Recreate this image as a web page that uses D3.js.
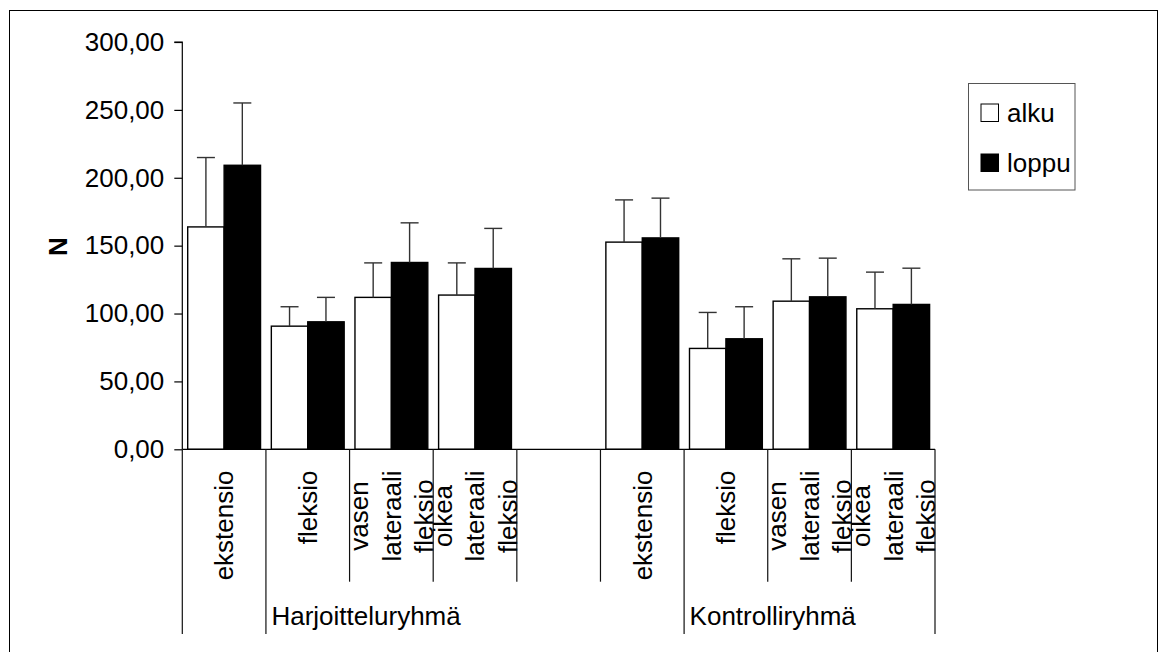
<!DOCTYPE html>
<html>
<head>
<meta charset="utf-8">
<script src="https://cdn.jsdelivr.net/npm/d3@7"></script>
<style>
  html, body { margin: 0; padding: 0; background: #fff; }
  svg { display: block; font-family: "Liberation Sans", Arial, sans-serif; }
</style>
</head>
<body>
<svg id="chart" width="1159" height="652"></svg>
<script>
// ---- data ----
const categories = [
  ["ekstensio"],
  ["fleksio"],
  ["vasen", "lateraali", "fleksio"],
  ["oikea", "lateraali", "fleksio"],
  [""],
  ["ekstensio"],
  ["fleksio"],
  ["vasen", "lateraali", "fleksio"],
  ["oikea", "lateraali", "fleksio"]
];
const groupLabels = ["", "Harjoitteluryhmä", "Kontrolliryhmä"];
const groupStarts = [0, 1, 6];
const groupEnds = [1, 6, 9];
const seriesNames = ["alku", "loppu"];
const alku = [163.8, 90.7, 111.9, 113.6, null, 152.6, 74.3, 109.1, 103.5];
const alkuSd = [51.1, 14.3, 25.4, 23.7, null, 31.1, 26.5, 31.2, 27.0];
const loppu = [209.2, 93.9, 137.6, 133.2, null, 155.7, 81.4, 112.3, 106.7];
const loppuSd = [45.9, 18.0, 29.2, 29.5, null, 29.3, 23.6, 28.5, 26.7];
const yTicks = [0, 50, 100, 150, 200, 250, 300];
const yLabel = "N";

// ---- layout ----
const svg = d3.select("#chart");
const plotL = 182.3, plotR = 935, plotT = 42, plotB = 449.3;
const fontSize = 26;

const locale = d3.formatLocale({decimal: ",", thousands: " ", grouping: [3], currency: ["", "€"]});
const fmt = locale.format(".2f");

// outer frame
svg.append("rect").attr("x", 9.5).attr("y", 10.5).attr("width", 1148).attr("height", 700)
  .attr("fill", "none").attr("stroke", "#000").attr("stroke-width", 1);

const idx = d3.range(categories.length);
const x0 = d3.scaleBand().domain(idx).range([plotL, plotR]).padding(0);
const x1 = d3.scaleBand().domain(seriesNames).range([5.4, x0.bandwidth() - 5.4]).padding(0);
const y = d3.scaleLinear().domain([0, 300]).range([plotB, plotT]);

const fills = {alku: "#ffffff", loppu: "#000000"};
const values = {alku: alku, loppu: loppu};
const sds = {alku: alkuSd, loppu: loppuSd};

// bars
const g = svg.append("g");
seriesNames.forEach(s => {
  idx.forEach(i => {
    const v = values[s][i];
    if (v == null) return;
    const bx = x0(i) + x1(s);
    g.append("rect")
      .attr("x", bx).attr("y", y(v))
      .attr("width", x1.bandwidth()).attr("height", y(0) - y(v))
      .attr("fill", fills[s]).attr("stroke", "#000").attr("stroke-width", 1.4);
  });
});
// error bars
seriesNames.forEach(s => {
  idx.forEach(i => {
    const v = values[s][i], sd = sds[s][i];
    if (v == null) return;
    const cx = x0(i) + x1(s) + x1.bandwidth() / 2;
    g.append("line").attr("x1", cx).attr("x2", cx).attr("y1", y(v)).attr("y2", y(v + sd))
      .attr("stroke", "#333").attr("stroke-width", 1.4);
    g.append("line").attr("x1", cx - 9).attr("x2", cx + 9).attr("y1", y(v + sd)).attr("y2", y(v + sd))
      .attr("stroke", "#333").attr("stroke-width", 1.4);
  });
});

// y axis
const yAxis = d3.axisLeft(y).tickValues(yTicks).tickFormat(fmt).tickSize(8).tickPadding(10);
const ya = svg.append("g").attr("transform", `translate(${plotL},0)`).call(yAxis);
ya.select(".domain").attr("stroke", "#000").attr("stroke-width", 1.2).attr("d", `M-8,${plotT}H0V${plotB}`);
ya.selectAll(".tick line").attr("stroke", "#000").attr("stroke-width", 1.2);
ya.selectAll(".tick text").attr("font-size", fontSize).attr("fill", "#000")
  .attr("font-family", "'Liberation Sans', Arial, sans-serif");

// y label
svg.append("text").attr("transform", `translate(66.5,246.7) rotate(-90)`)
  .attr("text-anchor", "middle").attr("font-size", fontSize).attr("font-weight", "bold")
  .text(yLabel);

// x axis line
svg.append("line").attr("x1", plotL).attr("x2", plotR).attr("y1", plotB).attr("y2", plotB)
  .attr("stroke", "#000").attr("stroke-width", 1.2);

// category dividers
const boundaries = d3.range(categories.length + 1);
const bx = i => i < categories.length ? x0(i) : plotR;
const longSet = new Set(groupStarts.concat(groupEnds));
boundaries.forEach(i => {
  svg.append("line").attr("x1", bx(i)).attr("x2", bx(i)).attr("y1", plotB)
    .attr("y2", longSet.has(i) ? 634 : 581.7)
    .attr("stroke", "#111").attr("stroke-width", 1.2);
});

// category labels (rotated, block top aligned, lines centered)
const labelTop = 470.5;
const lineGap = 32.5;
idx.forEach(i => {
  const lines = categories[i];
  const cg = svg.append("g");
  const texts = lines.map((t, k) => cg.append("text").attr("font-size", fontSize).text(t));
  const maxLen = d3.max(texts, t => t.node().getComputedTextLength());
  const cyc = labelTop + maxLen / 2;
  const cx = x0(i) + x0.bandwidth() / 2;
  texts.forEach((t, k) => {
    const lx = cx + (k - (lines.length - 1) / 2) * lineGap;
    t.attr("text-anchor", "middle").attr("dy", "0.36em")
      .attr("transform", `translate(${lx},${cyc}) rotate(-90)`);
  });
});

// group labels
groupLabels.forEach((lab, k) => {
  svg.append("text").attr("x", bx(groupStarts[k]) + 5.5).attr("y", 625)
    .attr("font-size", fontSize).text(lab);
});

// legend
const lg = svg.append("g");
lg.append("rect").attr("x", 968.5).attr("y", 83.5).attr("width", 106.5).attr("height", 106.5)
  .attr("fill", "#fff").attr("stroke", "#555").attr("stroke-width", 1);
const legY = [112.5, 162.5];
seriesNames.forEach((s, k) => {
  lg.append("rect").attr("x", 981).attr("y", legY[k] - 8.5).attr("width", 17.5).attr("height", 17.5)
    .attr("fill", fills[s]).attr("stroke", "#000").attr("stroke-width", 1);
  lg.append("text").attr("x", 1007).attr("y", legY[k]).attr("dy", "0.36em")
    .attr("font-size", fontSize).text(s);
});
</script>
</body>
</html>
